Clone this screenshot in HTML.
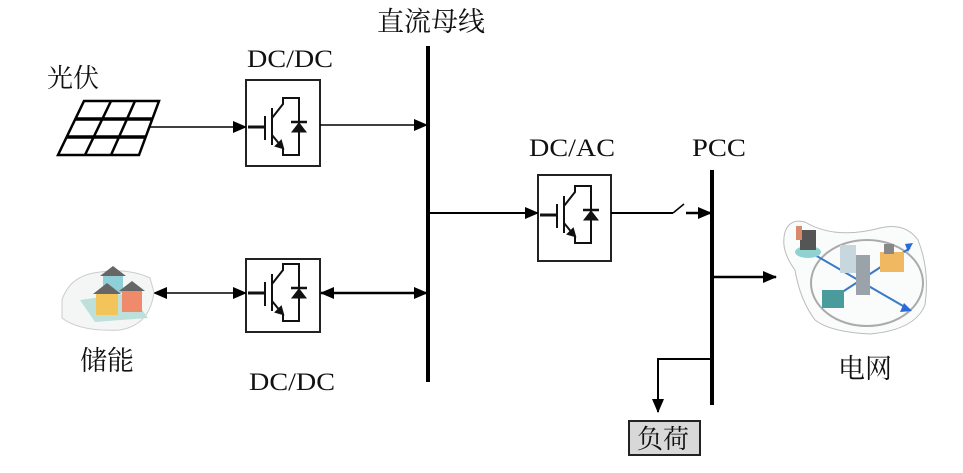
<!DOCTYPE html>
<html><head><meta charset="utf-8"><style>
html,body{margin:0;padding:0;background:#fff;}
svg{display:block;}
text{font-family:"Liberation Serif","Noto Serif CJK SC",serif;fill:#111;}
</style></head><body>
<svg width="963" height="473" viewBox="0 0 963 473" xmlns="http://www.w3.org/2000/svg">
<defs>
<marker id="as" markerWidth="14" markerHeight="12" refX="13" refY="6" orient="auto-start-reverse" markerUnits="userSpaceOnUse"><path d="M0,0 L14,6 L0,12 z" fill="#000"/></marker>
<g id="igbt" stroke="#111" stroke-width="2" fill="none">
<line x1="2" y1="47" x2="19" y2="47" stroke-width="3"/>
<line x1="19" y1="36" x2="19" y2="60"/>
<line x1="26" y1="28" x2="26" y2="65"/>
<polyline points="26,38 37,24 37,18 53,18 53,75 37,75 37,68"/>
<line x1="26" y1="55" x2="35" y2="66"/>
<path d="M37,68 L30,66 L35,61 z" fill="#111"/>
<path d="M46,52 L60,52 L53,43 z" fill="#111" stroke-width="1"/>
<line x1="45" y1="42" x2="61" y2="42" stroke-width="2.5"/>
</g>
</defs>

<text x="377" y="31" font-size="27">直流母线</text>
<text x="247" y="67" font-size="25" textLength="86" lengthAdjust="spacingAndGlyphs">DC/DC</text>
<text x="47" y="87" font-size="26">光伏</text>
<text x="529" y="156" font-size="25" textLength="86" lengthAdjust="spacingAndGlyphs">DC/AC</text>
<text x="692" y="156" font-size="25" textLength="54" lengthAdjust="spacingAndGlyphs">PCC</text>
<text x="80" y="370" font-size="27">储能</text>
<text x="249" y="390" font-size="25" textLength="86" lengthAdjust="spacingAndGlyphs">DC/DC</text>
<text x="838" y="378" font-size="27">电网</text>

<line x1="428" y1="46" x2="428" y2="382" stroke="#000" stroke-width="4"/>
<line x1="712" y1="170" x2="712" y2="405" stroke="#000" stroke-width="4"/>

<g stroke="#000" stroke-width="2.5" fill="none">
<polygon points="84,101 159,101 139,155 58,155"/>
<line x1="75" y1="119" x2="153" y2="119" stroke-width="3.5"/>
<line x1="67" y1="137" x2="146" y2="137" stroke-width="3.5"/>
<line x1="111" y1="101" x2="85" y2="155"/>
<line x1="135" y1="101" x2="111" y2="155"/>
</g>

<rect x="246" y="80" width="74" height="86" fill="#fff" stroke="#222" stroke-width="2"/>
<rect x="246" y="259" width="74" height="73" fill="#fff" stroke="#222" stroke-width="2"/>
<rect x="538" y="175" width="73" height="86" fill="#fff" stroke="#222" stroke-width="2"/>
<use href="#igbt" x="246" y="80"/>
<use href="#igbt" x="246" y="246"/>
<use href="#igbt" x="538" y="168"/>

<g stroke="#000" stroke-width="1.5" fill="none">
<line x1="150" y1="127" x2="246" y2="127" marker-end="url(#as)"/>
<line x1="320" y1="125" x2="427" y2="125" marker-end="url(#as)"/>
<line x1="154" y1="293" x2="246" y2="293" marker-start="url(#as)" marker-end="url(#as)"/>
<line x1="321" y1="293" x2="427" y2="293" stroke-width="2.5" marker-start="url(#as)" marker-end="url(#as)"/>
<line x1="430" y1="213" x2="538" y2="213" stroke-width="2" marker-end="url(#as)"/>
<line x1="611" y1="213" x2="673" y2="213" stroke-width="2"/>
<line x1="673" y1="213" x2="684" y2="204" stroke-width="1.5"/>
<line x1="686" y1="213" x2="711" y2="213" stroke-width="2.5" marker-end="url(#as)"/>
<line x1="712" y1="277" x2="776" y2="277" stroke-width="2.5" marker-end="url(#as)"/>
<polyline points="712,359 658,359 658,412" stroke-width="2" marker-end="url(#as)"/>
</g>

<rect x="629" y="421" width="71" height="34" fill="#d8d8d8" stroke="#222" stroke-width="2"/>
<text x="637" y="448" font-size="26">负荷</text>

<g>
<path d="M62,300 Q70,275 100,272 Q130,268 150,278 L154,292 Q150,325 120,330 Q80,332 62,318 z" fill="#f4f6f6" stroke="#ccc" stroke-width="1"/>
<polygon points="80,300 130,293 148,318 95,322" fill="#bde0da"/>
<rect x="103" y="275" width="20" height="18" fill="#8fd0d8"/>
<polygon points="100,276 113,266 126,276" fill="#666"/>
<rect x="96" y="293" width="22" height="22" fill="#f2c45a"/>
<polygon points="93,294 107,283 121,294" fill="#666"/>
<rect x="122" y="290" width="20" height="22" fill="#ef8a6a"/>
<polygon points="119,291 132,281 145,291" fill="#666"/>
</g>

<g>
<path d="M785,232 Q790,218 805,222 Q835,240 880,228 Q905,222 918,240 Q930,270 925,305 Q915,330 870,334 Q830,332 815,320 Q800,300 795,270 Q780,250 785,232 z" fill="#fafbfb" stroke="#bbb" stroke-width="1"/>
<ellipse cx="867" cy="283" rx="56" ry="43" fill="none" stroke="#aaa" stroke-width="2"/>
<line x1="815" y1="255" x2="910" y2="310" stroke="#3a7bc8" stroke-width="2"/>
<line x1="830" y1="300" x2="910" y2="248" stroke="#3a7bc8" stroke-width="2"/>
<path d="M904,303 L912,311 L900,312 z" fill="#2a6bd8"/>
<path d="M905,244 L913,243 L908,252 z" fill="#2a6bd8"/>
<ellipse cx="808" cy="252" rx="13" ry="6" fill="#8fd2d0"/>
<rect x="800" y="230" width="16" height="20" fill="#555"/>
<rect x="796" y="226" width="6" height="14" fill="#d88a6a"/>
<rect x="840" y="245" width="16" height="28" fill="#c8d6de"/>
<rect x="856" y="255" width="14" height="40" fill="#9aa3aa"/>
<rect x="880" y="252" width="24" height="20" fill="#f0b860"/>
<rect x="884" y="244" width="10" height="10" fill="#888"/>
<rect x="822" y="290" width="22" height="18" fill="#4a9c9c"/>
</g>
</svg>
</body></html>
